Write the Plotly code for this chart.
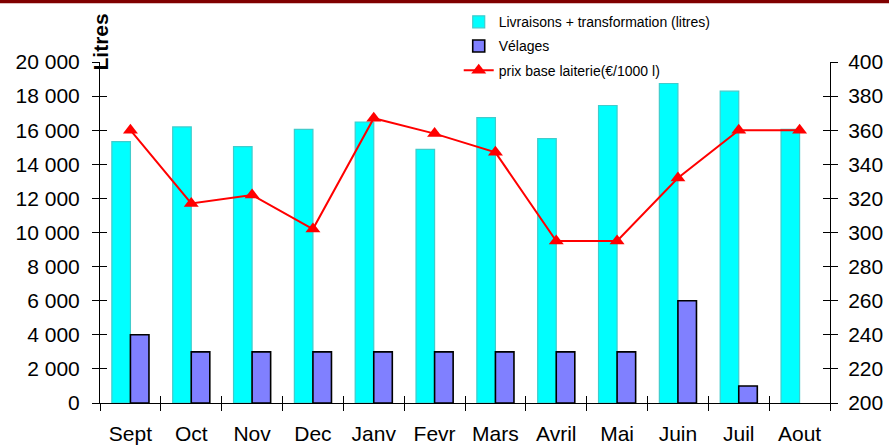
import plotly.graph_objects as go

months = ["Sept", "Oct", "Nov", "Dec", "Janv", "Fevr", "Mars", "Avril", "Mai", "Juin", "Juil", "Aout"]
livraisons = [15330, 16190, 15040, 16050, 16480, 14880, 16740, 15510, 17450, 18740, 18290, 16050]
velages = [4000, 3000, 3000, 3000, 3000, 3000, 3000, 3000, 3000, 6000, 1000, None]
prix = [360, 317, 322, 302, 367, 358, 347, 295, 295, 332, 360, 360]

FONT = "Liberation Sans, Arial, sans-serif"
x_range = [-0.5, len(months) - 0.5]

fig = go.Figure()
fig.add_trace(go.Bar(
    x=months, y=livraisons, name="Livraisons + transformation (litres)",
    marker=dict(color="#00FFFF", line=dict(color="#40CCCC", width=1.2)),
    legendgroup="a", yaxis="y", xaxis="x"))
fig.add_trace(go.Bar(
    x=months, y=velages, name="Vélages",
    marker=dict(color="#8080FF", line=dict(color="#000000", width=1.6)),
    legendgroup="b", yaxis="y", xaxis="x"))
fig.add_trace(go.Scatter(
    x=months, y=prix, name="prix base laiterie(€/1000 l)", mode="lines+markers",
    line=dict(color="#FF0000", width=2),
    marker=dict(symbol="triangle-up", size=13, color="#FF0000"),
    legendgroup="c", yaxis="y2", xaxis="x"))

axis_common = dict(showgrid=False, zeroline=False, linecolor="black", linewidth=1,
                   tickcolor="black", tickwidth=1, ticklen=7, automargin=False)
overlay_common = dict(showline=False, showgrid=False, zeroline=False, ticklen=7,
                      tickcolor="black", tickwidth=1, showticklabels=False, automargin=False)

fig.update_layout(
    template="none",
    width=889, height=445,
    margin=dict(l=100, r=59, t=62, b=42, autoexpand=False),
    paper_bgcolor="white", plot_bgcolor="white",
    separators=", ",
    font=dict(family=FONT, size=21, color="black"),
    barmode="group", bargap=0.39, bargroupgap=0,
    xaxis=dict(**axis_common, showline=True, ticks="outside", tickson="boundaries",
               range=x_range, ticklabelstandoff=12, tickfont=dict(size=21)),
    xaxis2=dict(**overlay_common, overlaying="x", ticks="inside", tickson="boundaries",
                anchor="y", type="category", categoryorder="array", categoryarray=months,
                range=x_range),
    yaxis=dict(**axis_common, showline=True, ticks="outside", range=[0, 20000], dtick=2000,
               tickformat=",d", ticklabelstandoff=8, tickfont=dict(size=21)),
    yaxis2=dict(**axis_common, showline=True, ticks="outside", overlaying="y", side="right",
                range=[200, 400], dtick=20, ticklabelstandoff=6, tickfont=dict(size=21)),
    yaxis3=dict(**overlay_common, overlaying="y", side="left", range=[0, 20000], dtick=2000,
                ticks="inside", anchor="x"),
    yaxis4=dict(**overlay_common, overlaying="y", side="right", range=[200, 400], dtick=20,
                ticks="inside", anchor="x"),
    showlegend=True,
    legend=dict(x=0.516, xanchor="left", y=0.986, yanchor="top", xref="container",
                yref="container", bgcolor="rgba(0,0,0,0)",
                font=dict(size=14, family=FONT), tracegroupgap=3, traceorder="grouped"),
    annotations=[dict(text="<b>Litres</b>", x=0, y=1.0, xref="paper", yref="paper",
                      xanchor="center", yanchor="bottom", textangle=-90, showarrow=False,
                      yshift=-11, font=dict(size=21, family=FONT))],
    shapes=[dict(type="rect", xref="paper", yref="paper", x0=-0.2, x1=1.2,
                 y0=1.172, y1=1.19, fillcolor="#800000", line=dict(width=0))],
)

# invisible traces so the overlay tick axes render
fig.add_trace(go.Scatter(x=months, y=livraisons, xaxis="x2", yaxis="y3", mode="none",
                         showlegend=False, hoverinfo="skip"))
fig.add_trace(go.Scatter(x=months, y=prix, xaxis="x", yaxis="y4", mode="none",
                         showlegend=False, hoverinfo="skip"))

fig.write_html("out.html", config={"displayModeBar": False},
               post_script="document.body.style.margin='0';")
